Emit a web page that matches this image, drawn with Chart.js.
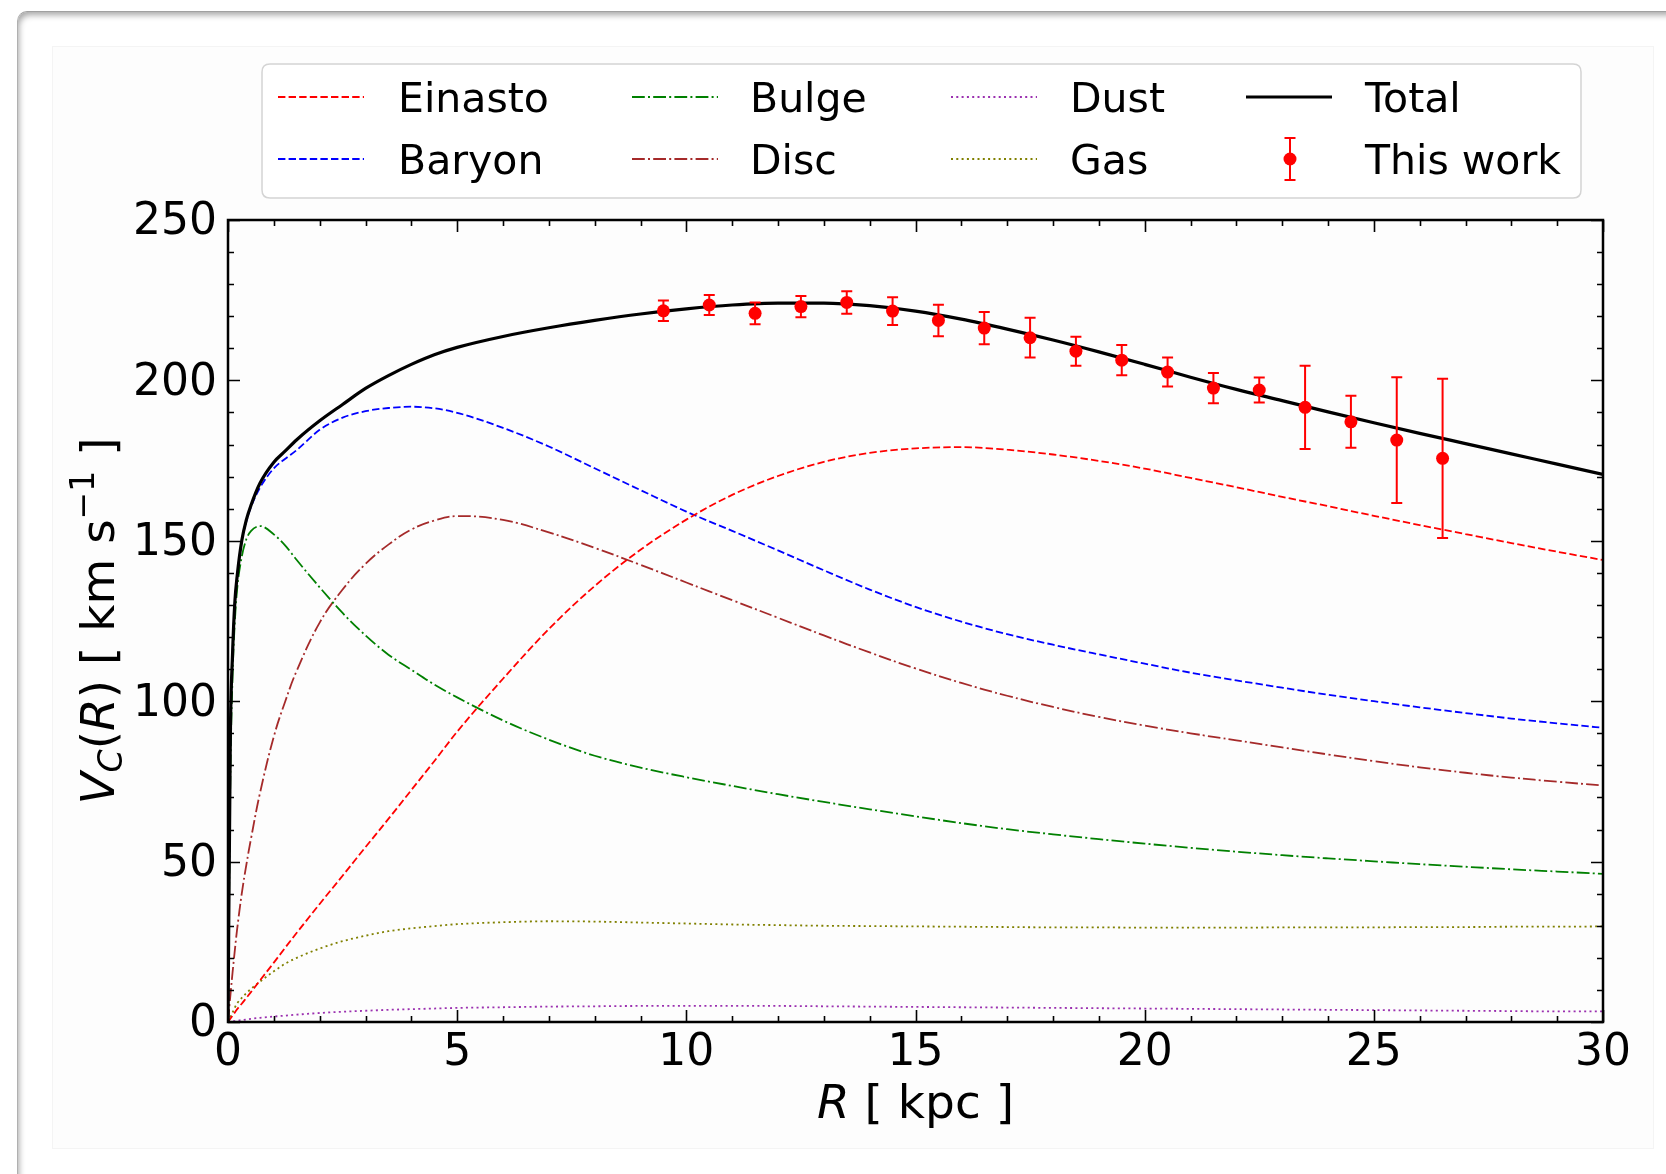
<!DOCTYPE html>
<html>
<head>
<meta charset="utf-8">
<script src="https://cdn.jsdelivr.net/npm/chart.js@4.4.0/dist/chart.umd.min.js"></script>
<style>
  html, body { margin: 0; padding: 0; background: #fff; width: 1666px; height: 1174px; overflow: hidden; }
  #card { position: absolute; left: 17px; top: 11px; width: 1700px; height: 1200px; background: #fff;
          border-top: 1px solid #a0a0a0; border-left: 1px solid #b0b0b0; border-radius: 10px 0 0 0;
          box-shadow: inset 3px 5px 6px -2px rgba(0,0,0,0.35); }
  #fig { position: absolute; left: 52px; top: 46px; width: 1600px; height: 1101px; background: #fdfdfd; border: 1px solid #f4f4f4; }
  #c { position: absolute; left: 0; top: 0; }
</style>
</head>
<body>
<div id="card"></div>
<div id="fig"></div>
<canvas id="c" width="1666" height="1174"></canvas>
<script>
// radius grid (kpc) the model curves were read at
var R = [0, 0.05, 0.1, 0.15, 0.2, 0.3, 0.4, 0.5, 0.7, 1, 1.25, 1.5, 2, 2.5, 3, 3.5, 4, 4.5, 5, 6, 7, 8, 9, 10,
         11, 12, 13, 14, 15, 16, 17, 18, 19, 20, 21, 22, 23, 24, 25, 26, 27, 28, 29, 30];

// model curves, km/s
var total   = [0, 88, 115, 131, 139, 150, 156.5, 161, 168, 174.5, 178, 181.5, 187.4, 192.5, 197.5, 201.5, 205, 208, 210.3, 213.7, 216.4, 218.7, 220.7, 222.3,
               223.5, 224.1, 224.1, 223.3, 221.6, 219.1, 216, 212.6, 208.9, 205, 201, 197.2, 193.7, 190.2, 186.8, 183.5, 180.3, 177.1, 173.9, 170.7];
var baryon  = [0, 88, 115, 131, 139, 150, 156, 160.5, 166.6, 172.6, 175.6, 178.3, 184.6, 188.4, 190.4, 191.4, 191.8, 191.3, 189.9, 185.2, 179.4, 172.6, 165.8, 159.1,
               153.1, 147.0, 140.8, 134.8, 129.4, 124.8, 120.9, 117.6, 114.6, 111.7, 108.9, 106.5, 104.2, 102.0, 100.0, 98.1, 96.3, 94.6, 93.1, 91.7];
var einasto = [0, 1, 2, 3, 4, 5.7, 7.5, 9.3, 13, 18.5, 23.2, 27.8, 36.8, 45.6, 54.5, 63.3, 72.3, 81.3, 90.5, 107, 122.5, 135.9, 147.2, 156.6,
               164.3, 170.2, 174.6, 177.4, 178.8, 179.2, 178.4, 176.9, 174.9, 172.5, 169.6, 166.7, 163.7, 160.8, 157.8, 154.9, 152.1, 149.3, 146.6, 144];
var bulge   = [0, 75, 108, 125, 135, 145, 150.5, 153, 154.6, 152, 148.5, 144, 135.5, 127.5, 120.5, 114.5, 109.8, 105.2, 101.2, 94, 88, 83, 79.3, 76.3,
               73.6, 71, 68.6, 66.3, 64.1, 62, 60.1, 58.5, 57, 55.6, 54.3, 53.1, 52, 51, 50.1, 49.2, 48.4, 47.6, 46.9, 46.2];
var disc    = [0, 8, 15.5, 22.5, 29, 40, 49, 57, 71.5, 89, 100, 109.5, 124.5, 134.8, 142.8, 148.8, 153.5, 156.3, 157.7, 156.5, 152.6, 147.8, 142.5, 137,
               131.5, 126, 120.5, 115.2, 110.2, 105.7, 101.7, 98.2, 95.1, 92.4, 90, 87.8, 85.6, 83.4, 81.3, 79.4, 77.7, 76.2, 74.9, 73.7];
var gas     = [0, 1.5, 3, 4.5, 5.8, 7.5, 9, 10.3, 12.6, 15.8, 18.2, 20, 22.9, 25.2, 26.9, 28.3, 29.2, 29.9, 30.5, 31.1, 31.4, 31.3, 31, 30.7,
               30.4, 30.2, 30, 29.9, 29.8, 29.7, 29.6, 29.5, 29.5, 29.4, 29.4, 29.4, 29.5, 29.5, 29.5, 29.6, 29.6, 29.7, 29.7, 29.8];
var dust    = [0, 0.1, 0.2, 0.3, 0.4, 0.6, 0.8, 1.0, 1.3, 1.7, 2.0, 2.3, 2.8, 3.2, 3.5, 3.8, 4.0, 4.2, 4.4, 4.6, 4.8, 4.9, 5.0, 5.0,
               5.0, 5.0, 4.9, 4.8, 4.7, 4.6, 4.5, 4.4, 4.3, 4.2, 4.1, 4.0, 3.9, 3.8, 3.7, 3.6, 3.5, 3.4, 3.3, 3.3];

// measured points ("This work")
var obsR   = [9.5, 10.5, 11.5, 12.5, 13.5, 14.5, 15.5, 16.5, 17.5, 18.5, 19.5, 20.5, 21.5, 22.5, 23.5, 24.5, 25.5, 26.5];
var obsV   = [221.7, 223.5, 220.9, 223.0, 224.3, 221.6, 218.7, 216.3, 213.3, 209.1, 206.3, 202.6, 197.6, 197.0, 191.6, 187.1, 181.4, 175.7];
var obsErr = [3.2, 3.1, 3.4, 3.3, 3.5, 4.3, 4.9, 5.0, 6.2, 4.5, 4.7, 4.5, 4.7, 3.9, 13.0, 8.1, 19.6, 24.8];

// axis ticks
var xTicks = [0, 5, 10, 15, 20, 25, 30];
var yTicks = [0, 50, 100, 150, 200, 250];
var xMinorStep = 1;
var yMinorStep = 10;

Chart.defaults.font.family = "'DejaVu Sans', sans-serif";
Chart.defaults.color = '#000';

function toXY(xs, ys) {
  return xs.map(function (x, i) { return { x: x, y: ys[i] }; });
}

function curve(label, values, color, width, dash, smooth) {
  var ds = {
    label: label,
    data: toXY(R, values),
    showLine: true,
    borderColor: color,
    borderWidth: width,
    borderDash: dash,
    pointRadius: 0,
    fill: false
  };
  if (smooth) ds.tension = 0.4;
  else ds.cubicInterpolationMode = 'monotone';
  return ds;
}

var dashed = [7.4, 3.2];
var dashDot = [12.8, 3.2, 2, 3.2];
var dotted = [2, 3.3];

// error bars + frame + inward ticks + axis titles + legend
var decor = {
  id: 'decor',
  beforeDatasetDraw: function (chart, args) {
    if (args.index !== 0) return;
    var c = chart.ctx, xs = chart.scales.x, ys = chart.scales.y;
    c.save();
    c.strokeStyle = '#ff0000';
    c.lineWidth = 2;
    c.setLineDash([]);
    obsR.forEach(function (r, i) {
      var px = xs.getPixelForValue(r);
      var top = ys.getPixelForValue(obsV[i] + obsErr[i]);
      var bot = ys.getPixelForValue(obsV[i] - obsErr[i]);
      c.beginPath();
      c.moveTo(px, top); c.lineTo(px, bot);
      c.moveTo(px - 5.5, top); c.lineTo(px + 5.5, top);
      c.moveTo(px - 5.5, bot); c.lineTo(px + 5.5, bot);
      c.stroke();
    });
    c.restore();
  },
  afterDatasetsDraw: function (chart) {
    var c = chart.ctx, a = chart.chartArea, xs = chart.scales.x, ys = chart.scales.y;
    c.save();
    c.strokeStyle = '#000';
    c.setLineDash([]);
    c.lineWidth = 1.6;
    c.beginPath();
    for (var v = 0; v <= 30; v += xMinorStep) {
      var px = Math.round(xs.getPixelForValue(v)) + 0.5;
      var len = xTicks.indexOf(v) >= 0 ? 12 : 6;
      c.moveTo(px, a.bottom); c.lineTo(px, a.bottom - len);
      c.moveTo(px, a.top); c.lineTo(px, a.top + len);
    }
    for (var w = 0; w <= 250; w += yMinorStep) {
      var py = Math.round(ys.getPixelForValue(w)) + 0.5;
      var l2 = yTicks.indexOf(w) >= 0 ? 12 : 6;
      c.moveTo(a.left, py); c.lineTo(a.left + l2, py);
      c.moveTo(a.right, py); c.lineTo(a.right - l2, py);
    }
    c.stroke();
    c.lineWidth = 2.5;
    c.strokeRect(a.left, a.top, a.right - a.left, a.bottom - a.top);
    c.restore();
  },
  afterDraw: function (chart) {
    var c = chart.ctx, a = chart.chartArea;
    c.save();
    c.fillStyle = '#000';
    c.textBaseline = 'alphabetic';

    // x title: R [ kpc ]
    var f = 47;
    var it = 'italic ' + f + "px 'DejaVu Sans'";
    var rg = f + "px 'DejaVu Sans'";
    c.font = it; var w1 = c.measureText('R').width;
    c.font = rg; var w2 = c.measureText(' [ kpc ]').width;
    var x0 = (a.left + a.right) / 2 - (w1 + w2) / 2;
    c.font = it; c.fillText('R', x0, 1118);
    c.font = rg; c.fillText(' [ kpc ]', x0 + w1, 1118);

    // y title: V_C(R) [ km s^-1 ]
    var sm = Math.round(f * 0.7);
    var parts = [
      { t: 'V', font: it, dy: 0 },
      { t: 'C', font: 'italic ' + sm + "px 'DejaVu Sans'", dy: 0.16 * f },
      { t: '(', font: rg, dy: 0 },
      { t: 'R', font: it, dy: 0 },
      { t: ') [ km s', font: rg, dy: 0 },
      { t: '\u22121', font: sm + "px 'DejaVu Sans'", dy: -0.42 * f },
      { t: ' ]', font: rg, dy: 0 }
    ];
    var tw = 0;
    parts.forEach(function (p) { c.font = p.font; p.w = c.measureText(p.t).width; tw += p.w; });
    c.translate(114, (a.top + a.bottom) / 2);
    c.rotate(-Math.PI / 2);
    var cx = -tw / 2;
    parts.forEach(function (p) { c.font = p.font; c.fillText(p.t, cx, p.dy); cx += p.w; });
    c.restore();

    // legend
    c.save();
    var bx = 262, by = 64, bw = 1319, bh = 134, rr = 8;
    c.beginPath();
    c.moveTo(bx + rr, by); c.lineTo(bx + bw - rr, by); c.quadraticCurveTo(bx + bw, by, bx + bw, by + rr);
    c.lineTo(bx + bw, by + bh - rr); c.quadraticCurveTo(bx + bw, by + bh, bx + bw - rr, by + bh);
    c.lineTo(bx + rr, by + bh); c.quadraticCurveTo(bx, by + bh, bx, by + bh - rr);
    c.lineTo(bx, by + rr); c.quadraticCurveTo(bx, by, bx + rr, by);
    c.closePath();
    c.fillStyle = 'rgba(255,255,255,0.85)';
    c.fill();
    c.strokeStyle = '#d4d4d4';
    c.lineWidth = 1.5;
    c.stroke();

    var handleX = [278, 632, 951, 1246];
    var textX = [398, 750, 1070, 1365];
    var rowY = [97, 159];
    var order = [['Einasto', 'Baryon'], ['Bulge', 'Disc'], ['Dust', 'Gas'], ['Total', 'This work']];
    c.font = "41px 'DejaVu Sans'";
    c.textBaseline = 'alphabetic';
    order.forEach(function (col, ci) {
      col.forEach(function (name, ri) {
        var ds = chart.data.datasets.find(function (d) { return d.label === name; });
        var y = rowY[ri];
        if (name === 'This work') {
          var mx = handleX[ci] + 44;
          c.strokeStyle = '#ff0000'; c.lineWidth = 2; c.setLineDash([]);
          c.beginPath();
          c.moveTo(mx, y - 21); c.lineTo(mx, y + 21);
          c.moveTo(mx - 5.5, y - 21); c.lineTo(mx + 5.5, y - 21);
          c.moveTo(mx - 5.5, y + 21); c.lineTo(mx + 5.5, y + 21);
          c.stroke();
          c.fillStyle = '#ff0000';
          c.beginPath(); c.arc(mx, y, 6.5, 0, Math.PI * 2); c.fill();
        } else {
          c.strokeStyle = ds.borderColor; c.lineWidth = ds.borderWidth;
          c.setLineDash(ds.borderDash || []);
          c.beginPath(); c.moveTo(handleX[ci], y); c.lineTo(handleX[ci] + 86, y); c.stroke();
        }
        c.fillStyle = '#000';
        c.fillText(name, textX[ci], y + 15);
      });
    });
    c.restore();
  }
};

var ctx = document.getElementById('c').getContext('2d');
var chart = new Chart(ctx, {
  type: 'scatter',
  data: {
    datasets: [
      {
        label: 'This work',
        data: toXY(obsR, obsV),
        showLine: false,
        pointRadius: 6.5,
        pointBackgroundColor: '#ff0000',
        pointBorderWidth: 0
      },
      curve('Total', total, '#000000', 3.2, []),
      curve('Einasto', einasto, '#ff0000', 1.8, dashed),
      curve('Baryon', baryon, '#0000ff', 1.8, dashed),
      curve('Bulge', bulge, '#008000', 1.8, dashDot),
      curve('Disc', disc, '#a52a2a', 1.8, dashDot, true),
      curve('Dust', dust, '#9b30b0', 1.8, dotted),
      curve('Gas', gas, '#808000', 1.8, dotted)
    ]
  },
  options: {
    responsive: false,
    animation: false,
    devicePixelRatio: 1,
    layout: { padding: { left: 0, top: 220, right: 63, bottom: 0 } },
    plugins: { legend: { display: false }, tooltip: { enabled: false } },
    scales: {
      x: {
        type: 'linear', min: 0, max: 30,
        afterBuildTicks: function (s) { s.ticks = xTicks.map(function (v) { return { value: v }; }); },
        ticks: { font: { size: 44, lineHeight: 1 }, padding: 10, maxRotation: 0 },
        grid: { display: false, drawTicks: false },
        border: { display: false },
        afterFit: function (s) { s.height = 152; }
      },
      y: {
        type: 'linear', min: 0, max: 250,
        afterBuildTicks: function (s) { s.ticks = yTicks.map(function (v) { return { value: v }; }); },
        ticks: { font: { size: 44, lineHeight: 1 }, padding: 11, labelOffset: 3 },
        grid: { display: false, drawTicks: false },
        border: { display: false },
        afterFit: function (s) { s.width = 228; }
      }
    }
  },
  plugins: [decor]
});
</script>
</body>
</html>
